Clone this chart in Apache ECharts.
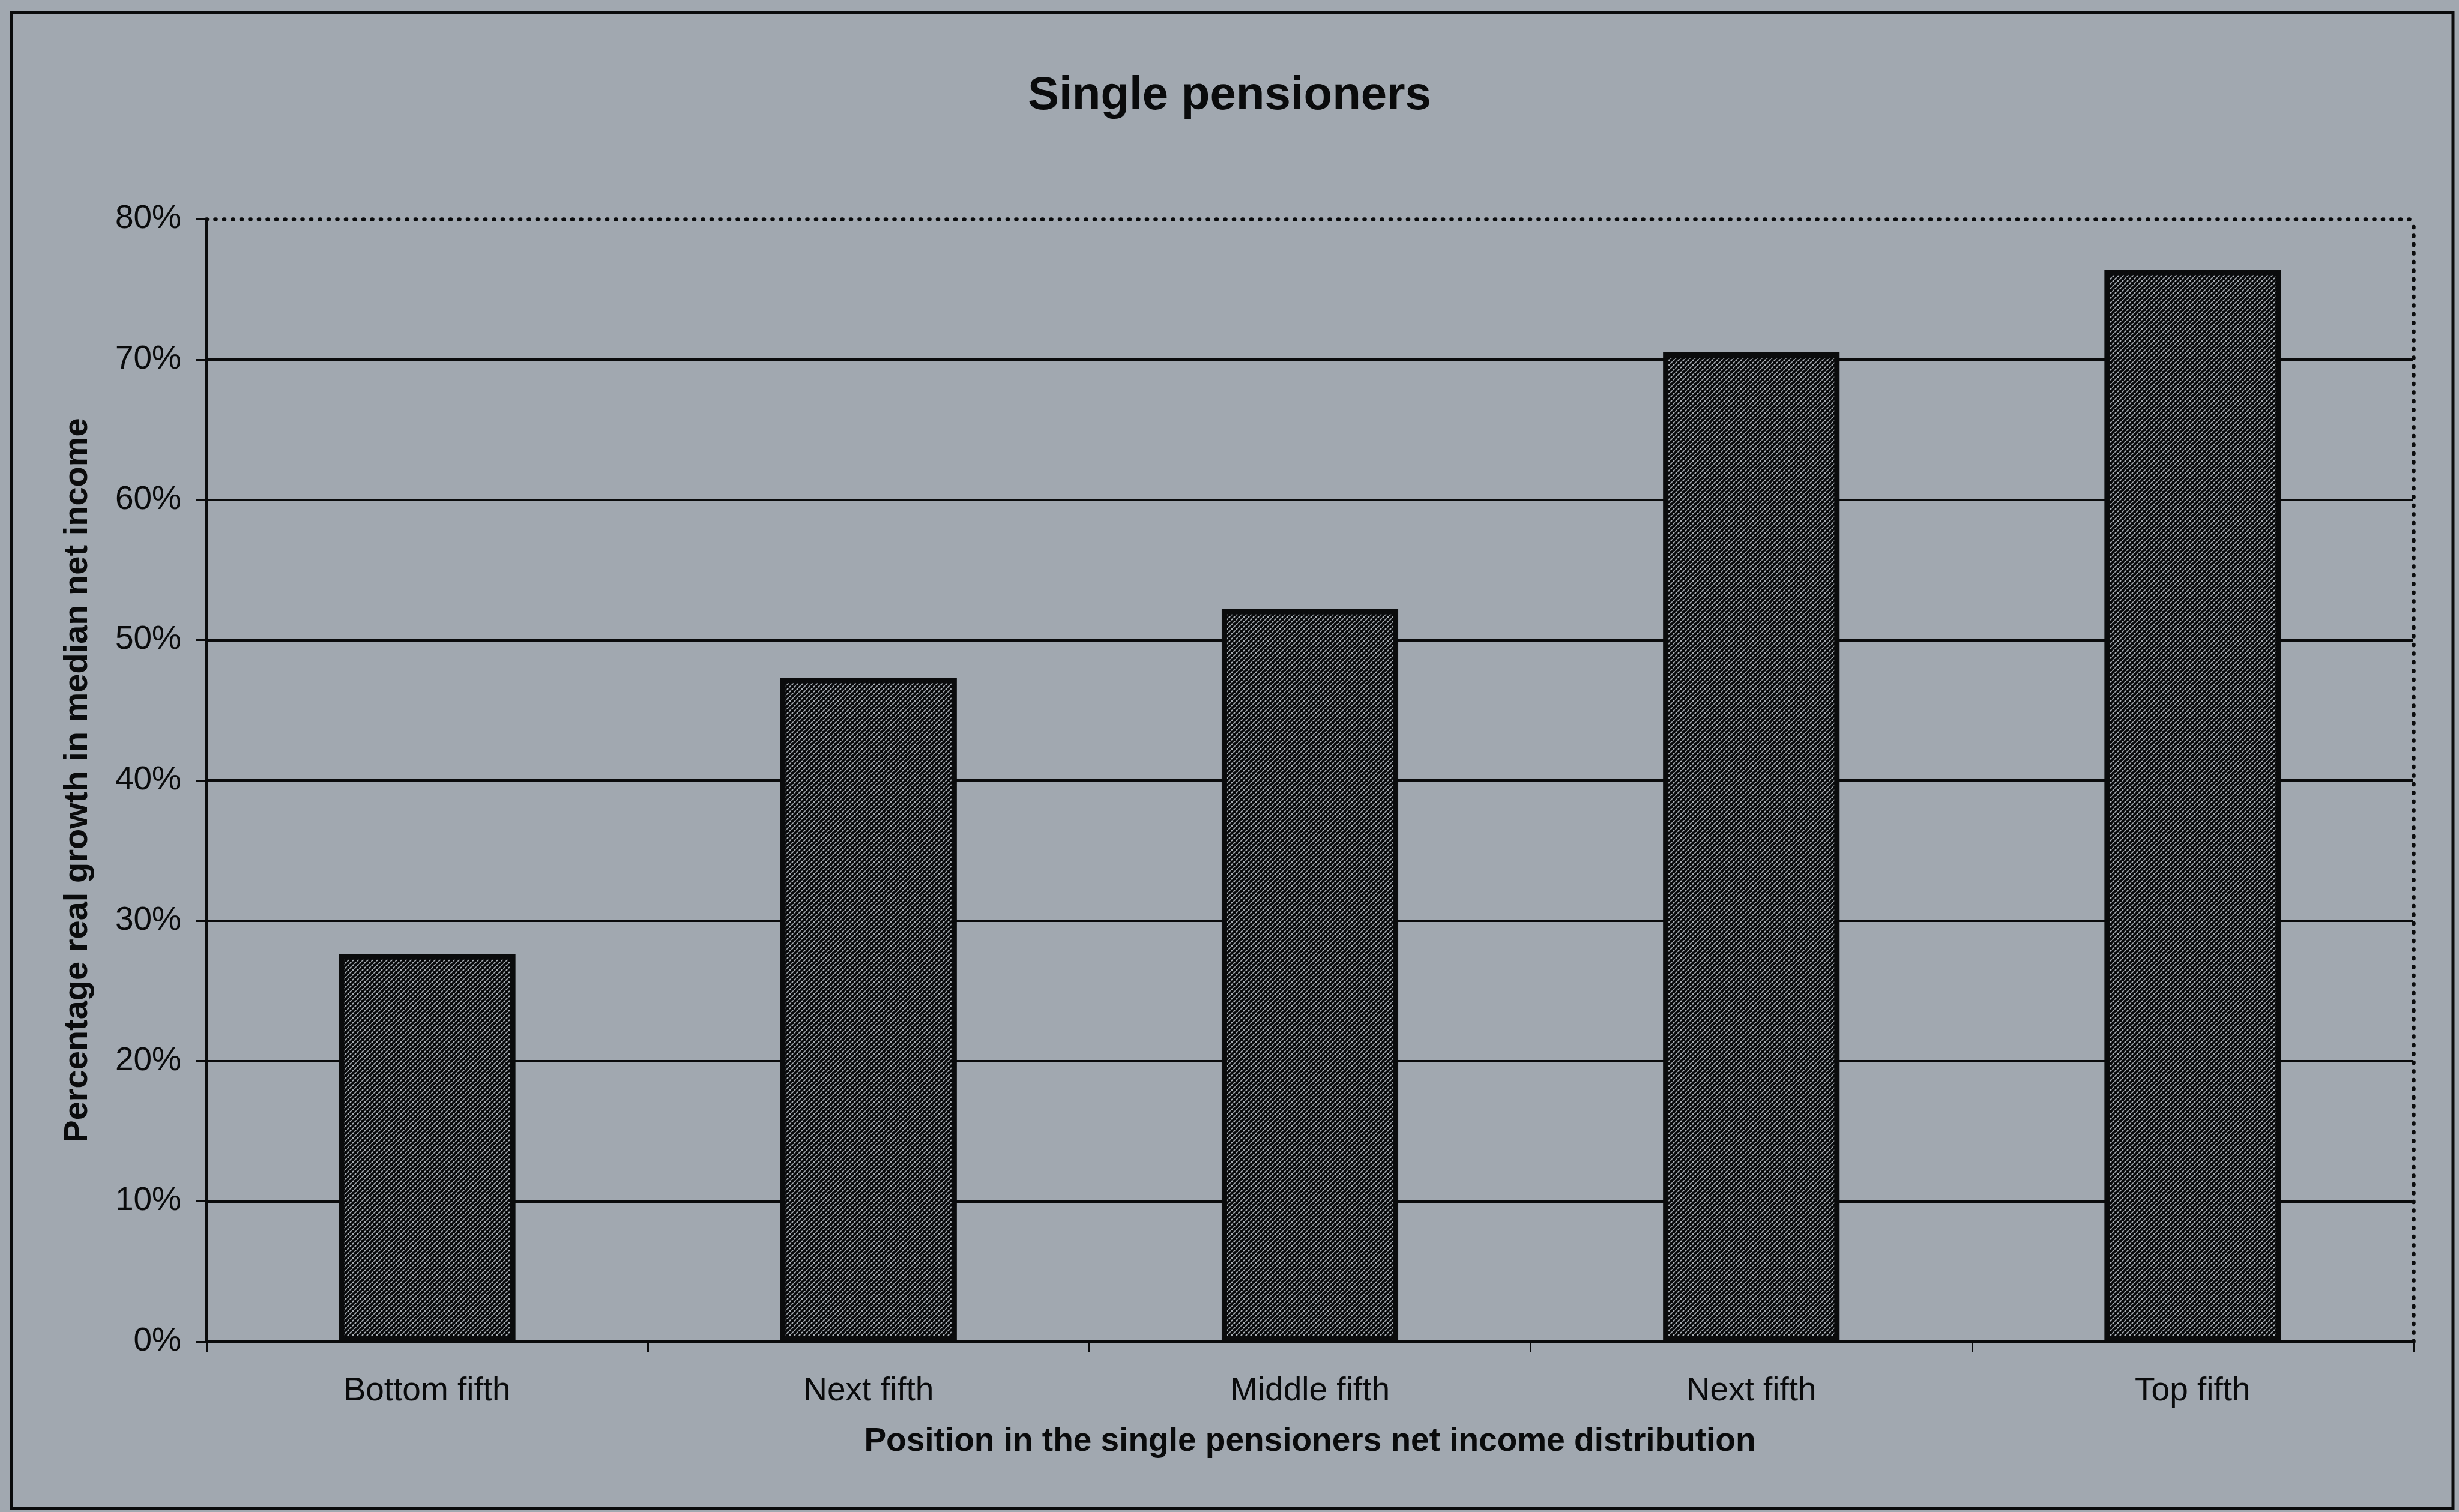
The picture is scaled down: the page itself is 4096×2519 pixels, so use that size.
<!DOCTYPE html>
<html>
<head>
<meta charset="utf-8">
<title>Single pensioners</title>
<script src="https://cdn.jsdelivr.net/npm/echarts@6/dist/echarts.min.js"></script>
<style>
  html, body { margin: 0; padding: 0; background: #a1a8b0; }
  #chart { width: 4096px; height: 2519px; }
</style>
</head>
<body>
<div id="chart"></div>
<script>
// Growth in median net income by fifth of the single pensioners distribution
const categories = ['Bottom fifth', 'Next fifth', 'Middle fifth', 'Next fifth', 'Top fifth'];
const growth = [27.6, 47.3, 52.2, 70.5, 76.4];
const yTicks = { min: 0, max: 80, interval: 10 };

const titleText = 'Single pensioners';
const xName = 'Position in the single pensioners net income distribution';
const yName = 'Percentage real growth in median net income';

const ink = '#0a0b0c';
const font = '"Liberation Sans", Arial, sans-serif';

// Dense dark cross-hatch used to fill the bars
function hatchTile() {
  const s = 8;
  const c = document.createElement('canvas');
  c.width = s; c.height = s;
  const g = c.getContext('2d');
  g.fillStyle = '#aab0b6';
  g.fillRect(0, 0, s, s);
  g.strokeStyle = '#121417';
  g.lineWidth = 3.1;
  for (const off of [-s, 0, s]) {
    g.beginPath();
    g.moveTo(off, s);
    g.lineTo(off + s, 0);
    g.stroke();
  }
  g.fillStyle = '#060708';
  for (const [x, y] of [[0, 0], [s, 0], [0, s], [s, s], [s / 2, s / 2]]) {
    g.beginPath();
    g.arc(x, y, 2.5, 0, Math.PI * 2);
    g.fill();
  }
  return c;
}

// Dotted edge of the plot area (top and right)
const dotted = { color: ink, width: 6.5, type: [1, 13.5], cap: 'round' };

const chart = echarts.init(document.getElementById('chart'), null, { renderer: 'canvas' });
chart.setOption({
  backgroundColor: '#a1a8b0',
  animation: false,
  textStyle: { fontFamily: font, color: ink },
  title: {
    text: titleText,
    left: 'center',
    top: 116,
    textStyle: { fontFamily: font, fontSize: 78, fontWeight: 'bold', color: ink }
  },
  graphic: [{
    type: 'rect',
    silent: true,
    z: 0,
    shape: { x: 19, y: 21, width: 4067, height: 2492 },
    style: { fill: null, stroke: ink, lineWidth: 5 }
  }],
  grid: { left: 344, right: 76, top: 365, bottom: 284, containLabel: false },
  xAxis: [{
    type: 'category',
    data: categories,
    position: 'bottom',
    name: xName,
    nameLocation: 'middle',
    nameGap: 139,
    nameTextStyle: { fontFamily: font, fontSize: 55, fontWeight: 'bold', color: ink },
    axisLine: { show: true, onZero: false, lineStyle: { color: ink, width: 5 } },
    axisTick: { show: true, alignWithLabel: false, inside: false, length: 17, lineStyle: { color: ink, width: 3 } },
    axisLabel: { margin: 55, fontFamily: font, fontSize: 55, color: ink },
    splitLine: { show: false }
  }, {
    type: 'category',
    data: categories,
    position: 'top',
    axisLine: { show: true, onZero: false, lineStyle: dotted },
    axisTick: { show: false },
    axisLabel: { show: false },
    splitLine: { show: false }
  }],
  yAxis: [{
    type: 'value',
    min: yTicks.min,
    max: yTicks.max,
    interval: yTicks.interval,
    position: 'left',
    name: yName,
    nameLocation: 'middle',
    nameGap: 186,
    nameRotate: 90,
    nameTextStyle: { fontFamily: font, fontSize: 56, fontWeight: 'bold', color: ink },
    axisLine: { show: true, onZero: false, lineStyle: { color: ink, width: 5 } },
    axisTick: { show: true, inside: false, length: 17, lineStyle: { color: ink, width: 3 } },
    axisLabel: { margin: 42, fontFamily: font, fontSize: 55, color: ink, formatter: '{value}%' },
    splitLine: { show: true, showMaxLine: false, showMinLine: false, lineStyle: { color: ink, width: 4 } }
  }, {
    type: 'value',
    min: yTicks.min,
    max: yTicks.max,
    interval: yTicks.interval,
    position: 'right',
    axisLine: { show: true, onZero: false, lineStyle: dotted },
    axisTick: { show: false },
    axisLabel: { show: false },
    splitLine: { show: false }
  }],
  series: [{
    type: 'bar',
    data: growth,
    xAxisIndex: 0,
    yAxisIndex: 0,
    barWidth: '40%',
    z: 3,
    itemStyle: {
      color: { image: hatchTile(), repeat: 'repeat' },
      borderColor: ink,
      borderWidth: 9
    }
  }]
});
</script>
</body>
</html>
